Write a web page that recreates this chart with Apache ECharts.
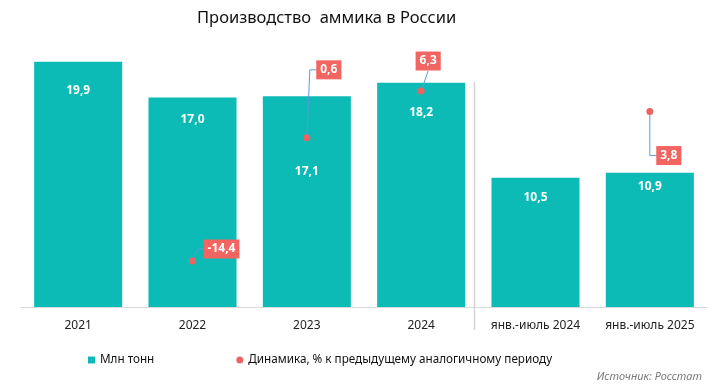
<!DOCTYPE html>
<html>
<head>
<meta charset="utf-8">
<script src="https://cdn.jsdelivr.net/npm/echarts@6/dist/echarts.min.js"></script>
<style>
html,body{margin:0;padding:0;background:#fff;}
#chart{width:715px;height:391px;}
</style>
</head>
<body>
<div id="chart"></div>
<script>
// ---- data ----
var categories = ['2021', '2022', '2023', '2024', 'янв.-июль 2024', 'янв.-июль 2025'];
var productionValues = [19.9, 17.0, 17.1, 18.2, 10.5, 10.9];          // Млн тонн
var dynamicsCategories = ['2022', '2023', '2024', 'янв.-июль 2025'];
var dynamicsValues = [-14.4, 0.6, 6.3, 3.8];                           // % к предыдущему периоду
var seriesNames = ['Млн тонн', 'Динамика, % к предыдущему аналогичному периоду'];
var titleText = 'Производство  аммика в России';
var sourceText = 'Источник: Росстат';

// ---- styling (label placement) ----
var barLabelDistance = [23, 16, 69, 24, 14, 8];
var dynLabelOffset = [[29, -12], [22, -68], [7, -30], [19, 44]];
var dynLeader = [[[5, -12], [11, -12]], [[3, -68], [10, -68]], [[7, -20]], [[0, 44], [7, 44]]];

var FONT = '"Noto Sans", "Open Sans", sans-serif';
var BAR_COLOR = '#0CBBB5';
var DOT_COLOR = '#EC6461';
var LABEL_BG = '#F26561';

var chart = echarts.init(document.getElementById('chart'), null, {renderer: 'canvas'});

var dynData = dynamicsCategories.map(function (c, i) {
  return {
    value: [c, dynamicsValues[i]],
    label: {offset: dynLabelOffset[i]}
  };
});

var sourceGraphic = {
  type: 'text',
  right: 13,
  top: 371,
  style: {text: sourceText, fill: '#7a7a7a', font: 'italic 11px ' + FONT}
};

var option = {
  animation: false,
  textStyle: {fontFamily: FONT},
  title: {
    text: titleText,
    left: 192,
    top: 5,
    textStyle: {fontFamily: FONT, fontSize: 16.5, fontWeight: 'normal', color: '#111'}
  },
  legend: {
    left: 83,
    top: 349,
    itemWidth: 7,
    itemHeight: 7,
    itemGap: 82,
    textStyle: {fontFamily: FONT, fontSize: 11.7, color: '#111'},
    data: [
      {name: seriesNames[0], icon: 'rect'},
      {name: seriesNames[1], icon: 'circle'}
    ]
  },
  grid: {left: 21, right: 8, top: 36, bottom: 84, containLabel: false},
  xAxis: {
    type: 'category',
    data: categories,
    axisTick: {show: false},
    axisLine: {lineStyle: {color: '#d9d9d9', width: 1}},
    axisLabel: {color: '#222', fontSize: 12, margin: 13, fontFamily: FONT, interval: 0}
  },
  yAxis: [
    {type: 'value', min: 0, max: 22, show: false, splitLine: {show: false}},
    {type: 'value', min: -20, max: 13, show: false, splitLine: {show: false}}
  ],
  series: [
    {
      name: seriesNames[0],
      type: 'bar',
      barWidth: '77%',
      itemStyle: {color: BAR_COLOR},
      data: productionValues.map(function (v, i) {
        return {value: v, label: {distance: barLabelDistance[i]}};
      }),
      label: {
        show: true,
        position: 'insideTop',
        color: '#fff',
        fontWeight: 'bold',
        fontSize: 12,
        fontFamily: FONT,
        formatter: function (p) { return p.value.toFixed(1).replace('.', ','); }
      },
      z: 2
    },
    {
      name: 'leaders',
      type: 'custom',
      yAxisIndex: 1,
      silent: true,
      z: 3,
      data: dynamicsCategories.map(function (c, i) { return [c, dynamicsValues[i], i]; }),
      renderItem: function (params, api) {
        var i = api.value(2);
        var p = api.coord([api.value(0), api.value(1)]);
        var pts = [[p[0], p[1]]];
        dynLeader[i].forEach(function (o) { pts.push([p[0] + o[0], p[1] + o[1]]); });
        return {
          type: 'polyline',
          shape: {points: pts},
          style: {stroke: '#5B9BD5', lineWidth: 1, fill: null}
        };
      }
    },
    {
      name: seriesNames[1],
      type: 'scatter',
      yAxisIndex: 1,
      symbol: 'circle',
      symbolSize: 7,
      itemStyle: {color: DOT_COLOR, opacity: 1},
      z: 4,
      data: dynData,
      label: {
        show: true,
        position: 'inside',
        color: '#fff',
        opacity: 1,
        fontWeight: 'bold',
        fontSize: 12,
        fontFamily: FONT,
        backgroundColor: LABEL_BG,
        padding: [4, 4, 3, 4],
        formatter: function (p) { return p.value[1].toFixed(1).replace('.', ','); }
      }
    }
  ],
  graphic: [sourceGraphic]
};

chart.setOption(option);

// separator between annual and Jan-Jul data, positioned from the axis scale
var x3 = chart.convertToPixel({xAxisIndex: 0}, categories[3]);
var x4 = chart.convertToPixel({xAxisIndex: 0}, categories[4]);
var sepX = Math.round((x3 + x4) / 2) - 3.5;
chart.setOption({
  graphic: [
    sourceGraphic,
    {
      type: 'line',
      shape: {x1: sepX, y1: 82, x2: sepX, y2: 330},
      style: {stroke: '#d4d4d4', lineWidth: 1.5},
      z: 1
    }
  ]
});
</script>
</body>
</html>
